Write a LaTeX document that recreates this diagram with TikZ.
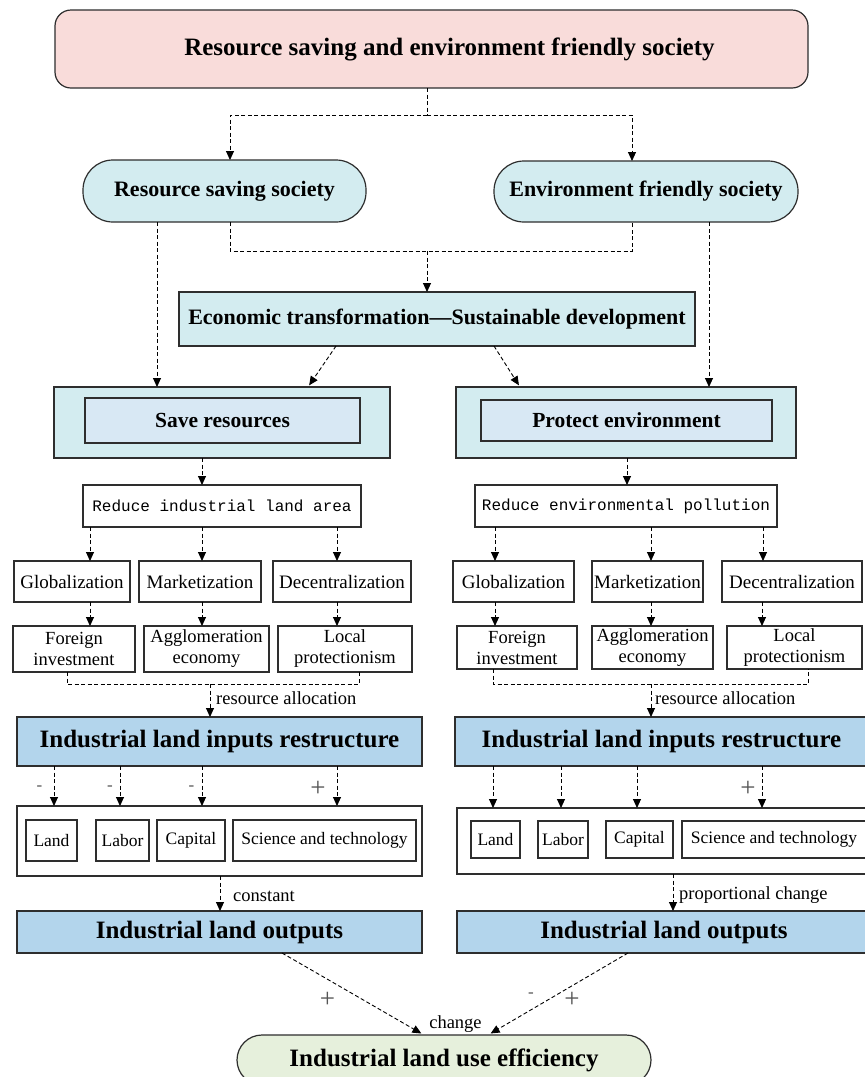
\documentclass[tikz,border=0pt]{standalone}
\usepackage{fontspec}
\setmainfont{Liberation Serif}
\setmonofont{Liberation Mono}
\usetikzlibrary{arrows.meta}
\definecolor{pinkc}{HTML}{F9DCDA}
\definecolor{cyanc}{HTML}{D3ECF0}
\definecolor{innerc}{HTML}{D8E8F4}
\definecolor{bluec}{HTML}{B3D5EC}
\definecolor{greenc}{HTML}{E6F0DC}
\definecolor{edgec}{HTML}{2E2E2E}
\definecolor{signc}{HTML}{555555}
\newcommand\myfTitle{\fontsize{25}{28}\selectfont\bfseries}
\newcommand\myfSoc{\fontsize{22}{25}\selectfont\bfseries}
\newcommand\myfEco{\fontsize{22}{25}\selectfont\bfseries}
\newcommand\myfSave{\fontsize{21.5}{24}\selectfont\bfseries}
\newcommand\myfBig{\fontsize{25}{28}\selectfont\bfseries}
\newcommand\myfReg{\fontsize{19}{21}\selectfont}
\newcommand\myfTwo{\fontsize{18.5}{21}\selectfont}
\newcommand\myfIn{\fontsize{17.5}{20}\selectfont}
\newcommand\myfLab{\fontsize{18.5}{21}\selectfont}
\newcommand\myfMono{\fontsize{16}{19}\selectfont\ttfamily}
\newcommand\myfPlus{\fontsize{27}{28}\selectfont}
\newcommand\myfMinus{\fontsize{17}{18}\selectfont}
\begin{document}
\begin{tikzpicture}[x=1pt,y=-1pt,
  bx/.style={draw=edgec, line width=1.2pt, inner sep=0pt, outer sep=0pt},
  pinkbox/.style={bx, fill=pinkc, rounded corners=16pt, font=\myfTitle},
  socbox/.style={bx, fill=cyanc, rounded corners=30pt, font=\myfSoc},
  cybox/.style={bx, fill=cyanc},
  inbox/.style={bx, fill=innerc, font=\myfSave},
  plainbox/.style={bx, fill=white, font=\myfReg},
  twobox/.style={bx, fill=white, font=\myfTwo, align=center},
  inpbox/.style={bx, fill=white, font=\myfIn},
  monobox/.style={bx, fill=white, font=\myfMono},
  bluebox/.style={bx, fill=bluec, font=\myfBig},
  effbox/.style={bx, fill=greenc, rounded corners=25pt, font=\myfBig},
  dl/.style={draw=black, line width=0.9pt, dash pattern=on 4pt off 2.5pt},
  arr/.style={dl, -{Triangle[length=9pt,width=8pt]}},
  lab/.style={font=\myfLab, inner sep=0pt, anchor=west},
  sign/.style={text=signc, inner sep=0pt},
  plus/.style={sign, font=\myfPlus},
  minus/.style={sign, font=\myfMinus}
]
\useasboundingbox (0,0) rectangle (865,1077);
\clip (0,0) rectangle (865,1077);
\fill[white] (0,0) rectangle (865,1077);

% top
\node[pinkbox, minimum width=753pt, minimum height=78pt] (top) at (431.5,49) {\raisebox{-2pt}{\hspace*{36pt}Resource saving and environment friendly society}};
\node[socbox, minimum width=283pt, minimum height=62pt] (rss) at (224.5,191) {\raisebox{-2pt}{Resource saving society}};
\node[socbox, minimum width=304pt, minimum height=61pt] (efs) at (646,191.5) {\raisebox{-2pt}{Environment friendly society}};
\node[cybox, minimum width=516pt, minimum height=54pt, font=\myfEco] (eco) at (437,319) {\raisebox{-1pt}{Economic transformation—Sustainable development}};

% save / protect
\node[cybox, minimum width=336pt, minimum height=71pt] (sro) at (222,422.5) {};
\node[inbox, minimum width=275pt, minimum height=45pt] (sr) at (222.5,420.5) {Save resources};
\node[cybox, minimum width=340pt, minimum height=71pt] (peo) at (626,422.5) {};
\node[inbox, minimum width=291pt, minimum height=41pt] (pe) at (626.5,420.5) {Protect environment};

\node[monobox, minimum width=278pt, minimum height=42pt] (rl) at (222,506) {Reduce industrial land area};
\node[monobox, minimum width=302pt, minimum height=42pt] (rp) at (626,506) {Reduce environmental pollution};

% left rows
\node[plainbox, minimum width=116pt, minimum height=41pt] (g1) at (72,581.5) {Globalization};
\node[plainbox, minimum width=122pt, minimum height=41pt] (m1) at (200,581.5) {Marketization};
\node[plainbox, minimum width=138pt, minimum height=41pt] (d1) at (342,581.5) {Decentralization};
\node[twobox, minimum width=122pt, minimum height=46pt] (f1) at (74,649) {Foreign\\investment};
\node[twobox, minimum width=125pt, minimum height=46pt] (a1) at (206.5,649) {Agglomeration\\economy};
\node[twobox, minimum width=134pt, minimum height=46pt] (l1) at (345,649) {Local\\protectionism};

% right rows
\node[plainbox, minimum width=121pt, minimum height=41pt] (g2) at (513.5,581.5) {Globalization};
\node[plainbox, minimum width=111pt, minimum height=41pt] (m2) at (647.5,581.5) {Marketization};
\node[plainbox, minimum width=140pt, minimum height=41pt] (d2) at (792,581.5) {Decentralization};
\node[twobox, minimum width=120pt, minimum height=43pt] (f2) at (517,647.5) {Foreign\\investment};
\node[twobox, minimum width=121pt, minimum height=43pt] (a2) at (652.5,647.5) {Agglomeration\\economy};
\node[twobox, minimum width=135pt, minimum height=43pt] (l2) at (794.5,647.5) {Local\\protectionism};

% inputs restructure
\node[bluebox, minimum width=405pt, minimum height=49pt] (in1) at (219.5,741.5) {Industrial land inputs restructure};
\node[bluebox, minimum width=413pt, minimum height=49pt] (in2) at (661.5,741.5) {Industrial land inputs restructure};

% containers
\node[bx, fill=white, minimum width=405pt, minimum height=70pt] (c1) at (219.5,841) {};
\node[bx, fill=white, minimum width=413pt, minimum height=66pt] (c2) at (663.5,841) {};
\node[inpbox, minimum width=51pt, minimum height=41pt] (la1) at (51.5,840.5) {Land};
\node[inpbox, minimum width=53pt, minimum height=41pt] (lb1) at (122.5,840.5) {Labor};
\node[inpbox, minimum width=68pt, minimum height=41pt] (ca1) at (191,840.5) {Capital};
\node[inpbox, minimum width=183pt, minimum height=41pt] (st1) at (324.5,840.5) {Science and technology};
\node[inpbox, minimum width=49pt, minimum height=37pt] (la2) at (495.5,839.5) {Land};
\node[inpbox, minimum width=50pt, minimum height=37pt] (lb2) at (563,839.5) {Labor};
\node[inpbox, minimum width=67pt, minimum height=37pt] (ca2) at (639.5,839.5) {Capital};
\node[inpbox, minimum width=184pt, minimum height=37pt] (st2) at (774,839.5) {Science and technology};

% outputs
\node[bluebox, minimum width=405pt, minimum height=42pt] (o1) at (219.5,932) {Industrial land outputs};
\node[bluebox, minimum width=414pt, minimum height=42pt] (o2) at (664,932) {Industrial land outputs};

% efficiency
\node[effbox, minimum width=414pt, minimum height=50pt] (eff) at (444,1060) {\raisebox{2pt}{Industrial land use efficiency}};

% ---------- connectors ----------
\coordinate (j1) at (427,115);
\draw[dl] (top.south -| j1) -- (j1);
\draw[arr] (j1) -| (rss.north -| 230,0);
\draw[arr] (j1) -| (efs.north -| 632,0);

\coordinate (j2) at (427,251);
\draw[dl] (rss.south -| 230,0) -- (230,251) -- (632,251) -- (efs.south -| 632,0);
\draw[arr] (j2) -- (eco.north -| j2);

\draw[arr] (rss.south -| 157,0) -- (sro.north -| 157,0);
\draw[arr] (efs.south -| 709,0) -- (peo.north -| 709,0);
\draw[arr, shorten >=2pt] (eco.south -| 336,0) -- (sro.north -| 308,0);
\draw[arr, shorten >=2pt] (eco.south -| 494,0) -- (peo.north -| 520,0);

\draw[arr] (sro.south -| 202,0) -- (rl.north -| 202,0);
\draw[arr] (peo.south -| 627,0) -- (rp.north -| 627,0);

\draw[arr] (rl.south -| 90,0) -- (g1.north -| 90,0);
\draw[arr] (rl.south -| 202,0) -- (m1.north -| 202,0);
\draw[arr] (rl.south -| 337,0) -- (d1.north -| 337,0);
\draw[arr] (g1.south -| 90,0) -- (f1.north -| 90,0);
\draw[arr] (m1.south -| 202,0) -- (a1.north -| 202,0);
\draw[arr] (d1.south -| 337,0) -- (l1.north -| 337,0);

\draw[arr] (rp.south -| 495,0) -- (g2.north -| 495,0);
\draw[arr] (rp.south -| 651,0) -- (m2.north -| 651,0);
\draw[arr] (rp.south -| 763,0) -- (d2.north -| 763,0);
\draw[arr] (g2.south -| 495,0) -- (f2.north -| 495,0);
\draw[arr] (m2.south -| 651,0) -- (a2.north -| 651,0);
\draw[arr] (d2.south -| 762,0) -- (l2.north -| 762,0);

\coordinate (b1) at (210,684);
\draw[dl] (f1.south -| 67,0) -- (67,684) -- (359,684) -- (l1.south -| 359,0);
\draw[arr] (b1) -- (in1.north -| b1);
\node[lab] at (216,698) {resource allocation};

\coordinate (b2) at (651,684);
\draw[dl] (f2.south -| 493,0) -- (493,684) -- (808,684) -- (l2.south -| 808,0);
\draw[arr] (b2) -- (in2.north -| b2);
\node[lab] at (655,698) {resource allocation};

\draw[arr] (in1.south -| 54,0) -- (c1.north -| 54,0);
\draw[arr] (in1.south -| 120,0) -- (c1.north -| 120,0);
\draw[arr] (in1.south -| 202,0) -- (c1.north -| 202,0);
\draw[arr] (in1.south -| 337,0) -- (c1.north -| 337,0);
\node[minus] at (39.5,788) {-};
\node[minus] at (110,788) {-};
\node[minus] at (191.5,788) {-};
\node[plus] at (318,789) {+};

\draw[arr] (in2.south -| 493,0) -- (c2.north -| 493,0);
\draw[arr] (in2.south -| 561,0) -- (c2.north -| 561,0);
\draw[arr] (in2.south -| 637,0) -- (c2.north -| 637,0);
\draw[arr] (in2.south -| 762,0) -- (c2.north -| 762,0);
\node[plus] at (748,789) {+};

\draw[arr] (c1.south -| 220,0) -- (o1.north -| 220,0);
\node[lab] at (233,896) {constant};
\draw[arr] (c2.south -| 673,0) -- (o2.north -| 673,0);
\node[lab] at (679,895) {proportional change};

\draw[arr, shorten >=3pt] (o1.south -| 282,0) -- (eff.north -| 424,0);
\draw[arr, shorten >=3pt] (o2.south -| 628,0) -- (eff.north -| 488,0);
\node[plus] at (327.5,1000) {+};
\node[minus] at (531,995) {-};
\node[plus] at (572,1000) {+};
\node[font=\myfLab, inner sep=0pt] at (455.5,1024) {change};
\end{tikzpicture}
\end{document}
